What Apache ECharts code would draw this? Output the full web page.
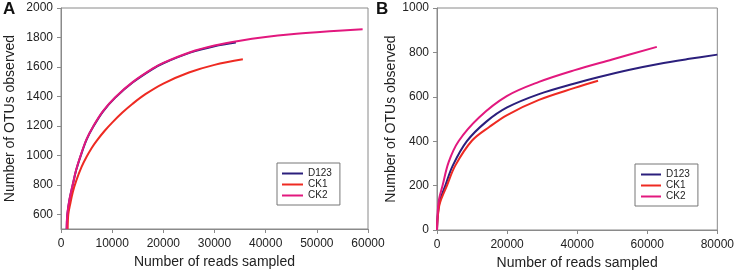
<!DOCTYPE html>
<html>
<head>
<meta charset="utf-8">
<script src="https://cdn.jsdelivr.net/npm/echarts@6/dist/echarts.min.js"></script>
<style>
  html, body { margin: 0; padding: 0; background: #fff; }
  #chart { width: 737px; height: 279px; }
</style>
</head>
<body>
<div id="chart"></div>
<script>
// panel A rarefaction curves [reads sampled, OTUs observed]
var aD123 = [[1120,500],[1250,600],[1670,700],[2300,800],[2970,900],[3880,1000],[5000,1107],[6320,1195],[8200,1297],[10560,1390],[14000,1494],[18060,1589],[20000,1625],[25230,1697],[30000,1741],[34170,1766]];
var aCK1 = [[1300,500],[1430,600],[1800,670],[2300,750],[3000,830],[4000,920],[5000,990],[6000,1050],[7000,1100],[8500,1165],[10000,1222],[12000,1290],[14000,1350],[16500,1415],[20000,1487],[25000,1562],[30000,1614],[35540,1652]];
var aCK2 = [[1100,500],[1230,600],[1650,700],[2280,800],[2950,900],[3850,1000],[5000,1110],[6320,1198],[8200,1300],[10560,1393],[14000,1497],[18060,1592],[20000,1628],[25230,1700],[30000,1745],[35000,1778],[40000,1803],[45000,1822],[50000,1836],[55000,1847],[58950,1856]];

// panel B
var bD123 = [[0,0],[200,60],[700,125],[2370,200],[4500,290],[8530,400],[14000,487],[20000,552],[29100,612],[39300,660],[45960,688],[55000,722],[63200,748],[72000,771],[80000,790]];
var bCK1 = [[0,0],[200,55],[800,120],[2840,200],[5200,290],[9950,402],[15000,465],[20000,518],[29100,586],[39300,640],[45960,672]];
var bCK2 = [[0,0],[200,80],[600,140],[1590,200],[3300,305],[6150,400],[12000,507],[19900,603],[29100,667],[39300,720],[50000,768],[62740,825]];

var names = ['D123', 'CK1', 'CK2'];
var colors = ['#2b1f7c', '#ee2a22', '#e2187e'];
var aTicks = [600, 800, 1000, 1200, 1400, 1600, 1800, 2000];

var axisColor = '#8a8a8a';
var font = 'Liberation Sans, Arial, sans-serif';

function plain (v) { return String(v) }

function xAxis (idx, max, interval) {
  return {
    type: 'value', gridIndex: idx, min: 0, max: max, interval: interval,
    name: 'Number of reads sampled', nameLocation: 'middle', nameGap: 26,
    nameTextStyle: { fontFamily: font, fontSize: 14, color: '#222' },
    axisLine: { lineStyle: { color: axisColor } },
    axisTick: { show: true, length: 4, lineStyle: { color: axisColor } },
    axisLabel: { fontFamily: font, fontSize: 12, color: '#222', margin: 9, formatter: plain },
    splitLine: { show: false }
  }
}

function yAxis (idx, min, max, interval, gap) {
  return {
    type: 'value', gridIndex: idx, min: min, max: max, interval: interval,
    name: 'Number of OTUs observed', nameLocation: 'middle', nameGap: gap,
    nameTextStyle: { fontFamily: font, fontSize: 14, color: '#222' },
    axisLine: { show: true, lineStyle: { color: axisColor } },
    axisTick: { show: true, length: 4, lineStyle: { color: axisColor } },
    axisLabel: { fontFamily: font, fontSize: 12, color: '#222', margin: 8, formatter: plain },
    splitLine: { show: false }
  }
}

function mkSeries (data, i, idx) {
  return {
    name: names[i], type: 'line', xAxisIndex: idx, yAxisIndex: idx,
    data: data, smooth: 0.35, showSymbol: false, symbol: 'none',
    lineStyle: { width: 2, color: colors[i] }, itemStyle: { color: colors[i] },
    silent: true
  }
}

function legend (left, top, lineW, padLeft) {
  return {
    data: names.map(function (n, i) { return { name: n, itemStyle: { color: colors[i] } } }),
    orient: 'vertical', left: left, top: top,
    icon: 'rect', itemWidth: lineW, itemHeight: 2, itemGap: 0,
    padding: [5, 8, 4, padLeft], borderColor: '#777', borderWidth: 1,
    textStyle: { fontFamily: font, fontSize: 10, color: '#222', lineHeight: 11 },
    selectedMode: false
  }
}

var yA = yAxis(0, 500, 2000, 100, 44)
yA.axisLabel.customValues = aTicks
yA.axisTick.customValues = aTicks

var chart = echarts.init(document.getElementById('chart'))
chart.setOption({
  animation: false,
  backgroundColor: '#fff',
  grid: [
    { left: 61, top: 8, right: 369, bottom: 50, show: true, borderColor: axisColor, borderWidth: 1 },
    { left: 437, top: 8, right: 18, bottom: 49, show: true, borderColor: axisColor, borderWidth: 1 }
  ],
  xAxis: [xAxis(0, 60000, 10000), xAxis(1, 80000, 20000)],
  yAxis: [yA, yAxis(1, 0, 1000, 200, 39)],
  legend: [legend(277, 163, 21, 5), legend(635, 164, 20, 6)],
  graphic: [
    { type: 'text', left: 3, top: 1, style: { text: 'A', font: 'bold 17px ' + font, fill: '#111' } },
    { type: 'text', left: 376, top: 1, style: { text: 'B', font: 'bold 17px ' + font, fill: '#111' } }
  ],
  series: [
    mkSeries(aD123, 0, 0), mkSeries(aCK1, 1, 0), mkSeries(aCK2, 2, 0),
    mkSeries(bD123, 0, 1), mkSeries(bCK1, 1, 1), mkSeries(bCK2, 2, 1)
  ]
})
</script>
</body>
</html>
